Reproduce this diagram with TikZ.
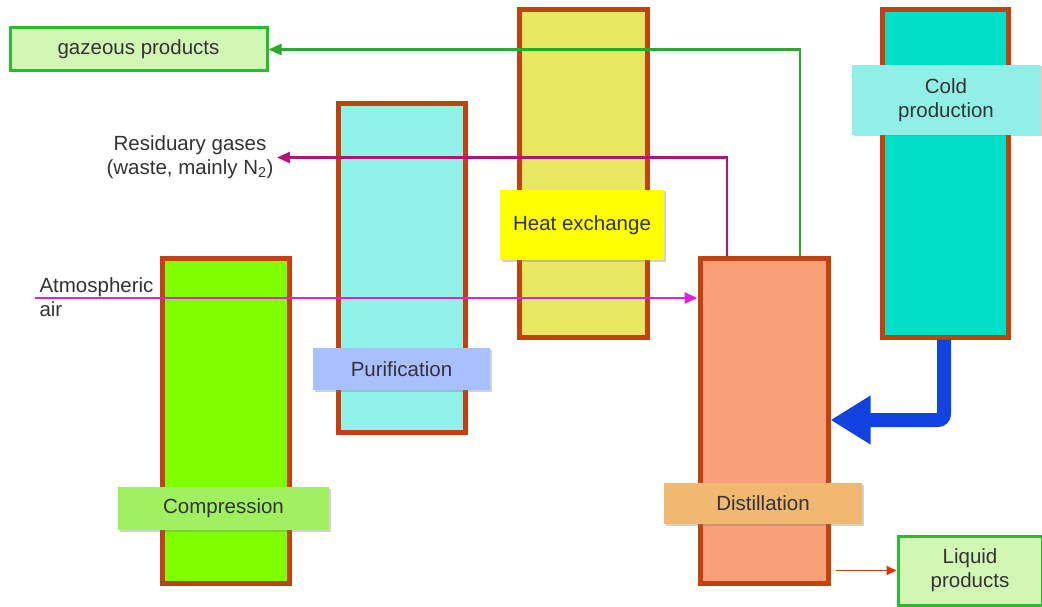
\documentclass[tikz,border=0pt]{standalone}
\usepackage{fontspec}
\setmainfont{Liberation Sans}
\usetikzlibrary{arrows.meta,shadows}
\definecolor{colborder}{HTML}{C2410C}
\definecolor{txt}{HTML}{333333}
\definecolor{gbord}{HTML}{2DBB2D}
\definecolor{gfill}{HTML}{D2F7B4}
\definecolor{gline}{HTML}{2AAA2A}
\definecolor{purp}{HTML}{B0157A}
\definecolor{mag}{HTML}{E020E0}
\definecolor{bluearr}{HTML}{1242E0}
\tikzset{
  col/.style={draw=colborder, line width=5pt, inner sep=0pt},
  lab/.style={inner sep=0pt, text=txt, font=\fontsize{20.5}{24}\selectfont, align=center,
    drop shadow={shadow xshift=1.5pt, shadow yshift=-1.5pt, opacity=0.35, fill=gray}},
  prod/.style={draw=gbord, fill=gfill, line width=3pt, inner sep=0pt, text=txt,
    font=\fontsize{20.5}{24}\selectfont, align=center},
  plain/.style={text=txt, font=\fontsize{20.5}{24}\selectfont},
  tip/.style={-{Triangle[length=13pt,width=11pt]}},
}
\begin{document}
\begin{tikzpicture}[x=1pt,y=-1pt]
\useasboundingbox (0,0) rectangle (1042,607);
\fill[white] (0,0) rectangle (1042,607);
% columns
\node[col, fill={rgb,255:red,128;green,255;blue,0}, minimum width=127pt, minimum height=325pt] (comp) at (225.5,420.5) {};
\node[col, fill={rgb,255:red,144;green,242;blue,232}, minimum width=127pt, minimum height=328pt] (puri) at (401.5,268) {};
\node[col, fill={rgb,255:red,232;green,232;blue,96}, minimum width=128pt, minimum height=327pt] (heat) at (583,173.5) {};
\node[col, fill={rgb,255:red,250;green,160;blue,120}, minimum width=128pt, minimum height=325pt] (dist) at (764,420.5) {};
\node[col, fill={rgb,255:red,0;green,224;blue,200}, minimum width=126pt, minimum height=327pt] (cold) at (945,173.5) {};
% product boxes
\node[prod, minimum width=257pt, minimum height=43pt] (gaz) at (138.5,49.5) {gazeous products};
\node[prod, minimum width=144pt, minimum height=69pt] (liq) at (970,570.5) {Liquid\\products};
% free texts
\node[plain, align=center] (resid) at (190,157.5) {Residuary gases\\(waste, mainly N\textsubscript{2})};
\node[plain, align=left, anchor=west] (atm) at (36,297.5) {Atmospheric\\air};
\coordinate (airstart) at (35,298);
% connectors
\draw[gline, line width=2.5pt, tip] (dist.north -| 800,0) |- (gaz.east);
\draw[purp, line width=2.5pt, tip] (dist.north -| 727,0) |- (resid.east);
\draw[mag, line width=2.5pt, tip] (airstart) -- (airstart -| dist.west);
\draw[colborder, line width=1.8pt, -{Triangle[length=10pt,width=9pt]}] (dist.east |- liq.west) ++(5,0) -- (liq.west);
\draw[bluearr, line width=14pt, rounded corners=6pt, -{Triangle[length=40pt,width=46pt]}]
  (cold.south -| 944,0) -- (944,420) -- (dist.east |- 0,420);
% labels on columns
\node[lab, fill={rgb,255:red,160;green,240;blue,96}, minimum width=211pt, minimum height=43pt] (complab) at (223.5,508.5) {Compression};
\node[lab, fill={rgb,255:red,168;green,192;blue,255}, minimum width=177pt, minimum height=42pt] (purilab) at (401.5,369) {Purification};
\node[lab, fill={rgb,255:red,255;green,255;blue,0}, minimum width=164pt, minimum height=70pt] (heatlab) at (582,225) {Heat exchange};
\node[lab, fill={rgb,255:red,240;green,184;blue,112}, minimum width=198pt, minimum height=41pt] (distlab) at (763,503.5) {Distillation};
\node[lab, fill={rgb,255:red,144;green,240;blue,232}, minimum width=188pt, minimum height=70pt] (coldlab) at (946,100) {Cold\\production};
\end{tikzpicture}
\end{document}
